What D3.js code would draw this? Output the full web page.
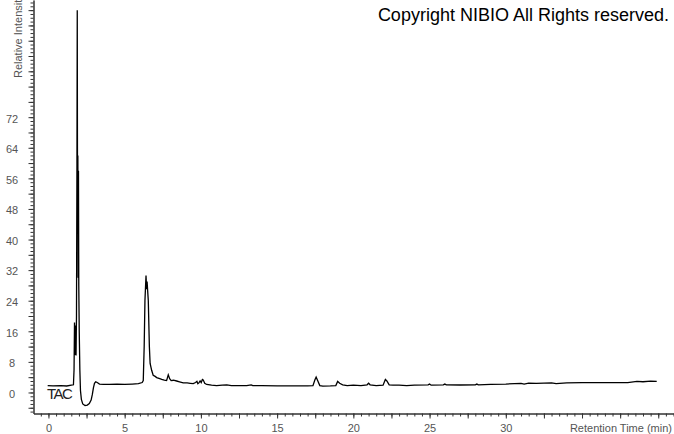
<!DOCTYPE html>
<html><head><meta charset="utf-8">
<script src="https://cdn.jsdelivr.net/npm/d3@7"></script>
<style>
body{margin:0;background:#fff;}
svg{display:block;font-family:"Liberation Sans",Arial,sans-serif;}
.axis path,.axis line{stroke:#333;}
</style></head><body>
<div id="chart"></div>
<script>
// trace: retention time (min) / relative intensity
var retTime = [-0.05,0.3,0.8,1.2,1.5,1.64,1.68,1.71,1.73,1.75,1.77,1.79,1.81,1.84,1.87,1.89,1.91,1.93,1.95,1.97,1.99,2.02,2.06,2.10,2.16,2.25,2.40,2.55,2.68,2.80,2.88,2.95,3.02,3.10,3.20,3.35,3.6,4.0,4.5,5.0,5.5,5.9,6.15,6.22,6.28,6.33,6.40,6.44,6.47,6.55,6.62,6.67,6.77,6.87,7.0,7.10,7.3,7.43,7.6,7.75,7.86,7.95,8.05,8.2,8.41,8.6,8.84,9.1,9.3,9.5,9.65,9.74,9.80,9.87,9.95,10.02,10.10,10.15,10.25,10.38,10.7,11.03,11.4,11.7,12.0,12.5,13.0,13.3,13.4,14.0,15.0,16.0,17.0,17.35,17.48,17.56,17.65,17.80,18.0,18.5,18.85,18.97,19.1,19.3,19.6,20.0,20.5,20.9,21.0,21.1,21.5,21.95,22.1,22.2,22.35,22.6,23.0,23.5,24.0,24.9,25.0,25.1,25.9,26.0,26.1,27.0,28.0,28.1,28.2,29.0,30.0,31.0,31.2,31.5,32.0,33.0,33.3,34.0,35.0,36.0,37.0,37.7,38.0,38.6,39.0,39.5,39.9];
var intensity = [1.8,1.7,1.8,1.7,1.9,2.0,6,18.3,10,17.5,9.8,16.5,9.7,20,60,100,45,62,30,58,28,16,6,0.5,-1.8,-3.0,-3.4,-3.3,-2.9,-2.0,-0.5,1.2,2.4,2.8,2.6,2.2,2.1,2.1,2.2,2.1,2.2,2.3,2.6,3.1,12,24,30.6,27,29,24,12,7.6,5.8,4.5,4.2,3.9,3.6,3.4,3.2,3.1,4.6,3.6,3.1,3.2,3.0,2.8,2.5,2.5,2.4,2.3,2.6,2.9,2.3,2.5,3.0,2.6,3.4,3.3,2.4,2.1,1.9,1.8,1.9,2.0,1.8,1.8,1.8,2.0,1.8,1.8,1.7,1.7,1.7,1.8,3.3,4.0,3.2,1.8,1.65,1.7,1.8,2.9,2.4,2.0,1.8,1.9,1.8,2.0,2.4,2.0,1.8,1.9,3.4,3.0,2.0,1.9,1.9,1.8,1.9,2.0,2.2,1.9,2.0,2.2,2.0,1.95,2.0,2.2,2.0,2.1,2.2,2.4,2.2,2.45,2.4,2.5,2.3,2.5,2.55,2.6,2.6,2.6,2.55,2.9,2.8,2.95,2.9];

var yTickLabels = [0,8,16,24,32,40,48,56,64,72];
var xTickLabels = [0,5,10,15,20,25,30];

var traceName = "TAC";
var yTitle = "Relative Intensity";
var xTitle = "Retention Time (min)";
var copyright = "Copyright NIBIO All Rights reserved.";

var W = 674, H = 434;

var svg = d3.select("#chart").append("svg")
    .attr("width", W)
    .attr("height", H);

var x = d3.scaleLinear()
    .domain([-0.98, 41.0])
    .range([33.5, 673.5]);

var y = d3.scaleLinear()
    .domain([-5.5, 102.65])
    .range([413.5, 0]);

var trace = retTime.map((t, i) => ({t: t, v: intensity[i]}));

// axes: minor + major ticks, labels drawn apart
svg.append("g").attr("class", "axis")
    .attr("transform", "translate(33.5,0)")
    .call(d3.axisLeft(y).tickValues(d3.range(-5, 103, 1)).tickSize(3).tickFormat("").tickSizeOuter(0));
svg.append("g").attr("class", "axis")
    .attr("transform", "translate(33.5,0)")
    .call(d3.axisLeft(y).tickValues(d3.range(-4, 103, 4)).tickSize(5).tickFormat("").tickSizeOuter(0));

svg.append("g").attr("class", "axis")
    .attr("transform", "translate(0,413.5)")
    .call(d3.axisBottom(x).tickValues(d3.range(-0.5, 41.01, 0.5)).tickSize(3).tickFormat("").tickSizeOuter(0));
svg.append("g").attr("class", "axis")
    .attr("transform", "translate(0,413.5)")
    .call(d3.axisBottom(x).tickValues(d3.range(0, 41, 2.5)).tickSize(5).tickFormat("").tickSizeOuter(0));

svg.selectAll(".ylab")
  .data(yTickLabels).enter()
  .append("text")
    .attr("class", "ylab")
    .attr("x", 12)
    .attr("y", d => y(d) + 1.5)
    .attr("dy", "0.35em")
    .attr("text-anchor", "middle")
    .style("font-size", "11px")
    .style("fill", "#555")
    .text(d => d);

svg.selectAll(".xlab")
  .data(xTickLabels).enter()
  .append("text")
    .attr("class", "xlab")
    .attr("x", d => x(d) + 0.5)
    .attr("y", 432)
    .attr("text-anchor", "middle")
    .style("font-size", "11px")
    .style("fill", "#555")
    .text(d => d);

svg.append("text")
    .attr("transform", "translate(22,78) rotate(-90)")
    .style("font-size", "11px")
    .style("fill", "#555")
    .text(yTitle);

svg.append("text")
    .attr("x", 672)
    .attr("y", 432)
    .attr("text-anchor", "end")
    .style("font-size", "11px")
    .style("fill", "#555")
    .text(xTitle);

svg.append("text")
    .attr("x", 669)
    .attr("y", 21)
    .attr("text-anchor", "end")
    .style("font-size", "18px")
    .style("fill", "#000")
    .text(copyright);

// the chromatogram
var drawTrace = d3.line()
    .x(d => x(d.t))
    .y(d => y(d.v));

svg.append("path")
    .attr("fill", "none")
    .attr("stroke", "#000")
    .attr("stroke-width", 1.3)
    .attr("d", drawTrace(trace));

svg.append("text")
    .attr("x", 47)
    .attr("y", 398.5)
    .style("font-size", "15px")
    .style("letter-spacing", "-1.5px")
    .style("fill", "#222")
    .text(traceName);
</script>
</body></html>
